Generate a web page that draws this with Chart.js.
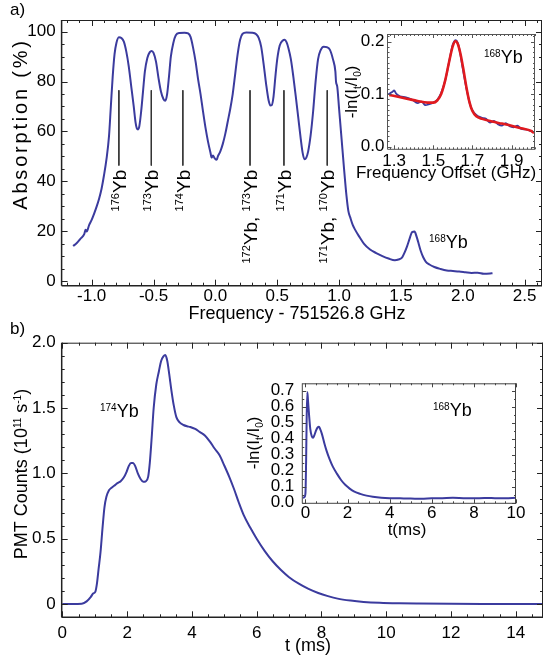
<!DOCTYPE html>
<html>
<head>
<meta charset="utf-8">
<script src="https://cdn.jsdelivr.net/npm/chart.js@4"></script>
<style>
  body { margin: 0; background: #fff; }
  #page { position: relative; width: 543px; height: 664px; overflow: hidden; background: #fff; }
  canvas { position: absolute; }
</style>
</head>
<body>
<div id="page">
  <canvas id="absChart"></canvas>
  <canvas id="pmtChart"></canvas>
  <canvas id="absInset"></canvas>
  <canvas id="pmtInset"></canvas>
</div>
<script>
const FONT = "'Liberation Sans', Arial, sans-serif";
const BLUE = '#3b3b9e';
const RED = '#e01a1f';

// Panel a: absorption vs frequency (GHz offset)
const absFreq = [-1.15, -1.12, -1.09, -1.06, -1.05, -1.04, -1.02, -1.00, -0.98, -0.96, -0.94, -0.92, -0.90, -0.88, -0.86, -0.845, -0.83, -0.815, -0.80, -0.78,
  -0.76, -0.74, -0.72, -0.70, -0.68, -0.66, -0.645, -0.635, -0.625, -0.615, -0.60, -0.585, -0.57, -0.55, -0.53, -0.515, -0.50, -0.48, -0.46, -0.44,
  -0.42, -0.405, -0.39, -0.375, -0.36, -0.34, -0.32, -0.29, -0.25, -0.22, -0.20, -0.18, -0.16, -0.14, -0.12, -0.10, -0.08, -0.06, -0.04, -0.03,
  -0.02, -0.005, 0.01, 0.02, 0.04, 0.06, 0.08, 0.10, 0.12, 0.14, 0.16, 0.18, 0.20, 0.22, 0.25, 0.30, 0.33, 0.35, 0.37, 0.39,
  0.41, 0.43, 0.445, 0.455, 0.47, 0.485, 0.50, 0.52, 0.545, 0.56, 0.575, 0.59, 0.61, 0.63, 0.65, 0.67, 0.69, 0.705, 0.72, 0.735,
  0.75, 0.77, 0.79, 0.81, 0.83, 0.85, 0.875, 0.90, 0.925, 0.95, 0.97, 0.975, 0.985, 1.00, 1.02, 1.04, 1.06, 1.075, 1.09, 1.11,
  1.13, 1.16, 1.20, 1.25, 1.30, 1.35, 1.40, 1.45, 1.48, 1.51, 1.53, 1.55, 1.57, 1.59, 1.61, 1.625, 1.64, 1.66, 1.68, 1.70,
  1.73, 1.77, 1.82, 1.87, 1.92, 1.97, 2.02, 2.07, 2.12, 2.17, 2.22, 2.24];
const absValue = [14.0, 15.2, 17.0, 18.8, 20.5, 19.8, 22.5, 24.5, 27.0, 29.8, 33.0, 37.0, 42.5, 49.0, 58.0, 70.0, 82.0, 91.0, 95.5, 97.8,
  97.5, 96.0, 92.0, 86.0, 78.0, 70.0, 63.5, 61.2, 60.8, 62.0, 68.0, 76.0, 84.0, 89.5, 91.8, 92.3, 91.5, 88.0, 81.5, 76.0,
  73.0, 72.3, 75.0, 82.0, 90.0, 95.5, 98.6, 99.5, 99.6, 99.3, 97.8, 93.5, 88.0, 81.0, 75.0, 68.0, 61.5, 56.0, 51.5, 49.5,
  50.3, 49.2, 48.6, 50.0, 52.0, 55.0, 59.0, 64.0, 69.0, 75.0, 83.0, 91.0, 96.8, 99.2, 99.7, 99.6, 99.0, 97.5, 94.0, 87.0,
  79.0, 72.5, 70.4, 70.5, 74.0, 82.0, 89.0, 94.5, 96.5, 96.8, 95.8, 93.5, 89.0, 82.0, 74.0, 65.5, 57.0, 51.5, 48.8, 49.5,
  52.0, 58.5, 68.0, 80.0, 89.0, 92.5, 94.0, 93.8, 92.8, 89.0, 84.0, 80.0, 78.0, 69.0, 57.0, 45.0, 34.0, 28.0, 25.5, 22.5,
  20.5, 18.0, 15.0, 12.6, 11.2, 10.0, 9.0, 8.3, 8.6, 9.5, 11.5, 14.0, 17.0, 19.6, 19.8, 18.0, 15.5, 12.0, 9.5, 7.8,
  6.6, 5.6, 4.8, 4.2, 4.0, 3.8, 3.5, 3.2, 3.3, 2.9, 3.0, 3.1];

// isotope markers
const isoFreq = [-0.78, -0.518, -0.263, 0.28, 0.554, 0.904];
const isoNames = ['^176Yb', '^173Yb', '^174Yb', '^172Yb, ^173Yb', '^171Yb', '^171Yb, ^170Yb'];
const isoTop = 76.5;
const isoBottom = 46.3;

const absXTicks = [-1.0, -0.5, 0.0, 0.5, 1.0, 1.5, 2.0, 2.5];
const absYTicks = [0, 20, 40, 60, 80, 100];

// inset a: 168Yb line, data + fit
const insFreq = [1.27, 1.29, 1.30, 1.31, 1.33, 1.36, 1.39, 1.42, 1.44, 1.46, 1.48, 1.50, 1.52, 1.54, 1.56, 1.58, 1.60, 1.615, 1.63, 1.65,
  1.67, 1.69, 1.71, 1.73, 1.75, 1.77, 1.79, 1.81, 1.83, 1.85, 1.87, 1.89, 1.91, 1.93, 1.95, 1.97, 1.99, 2.01];
const insValue = [0.100, 0.104, 0.107, 0.101, 0.096, 0.094, 0.090, 0.083, 0.086, 0.079, 0.081, 0.084, 0.089, 0.102, 0.125, 0.160, 0.195, 0.203, 0.192, 0.150,
  0.110, 0.078, 0.064, 0.058, 0.055, 0.053, 0.046, 0.049, 0.043, 0.040, 0.045, 0.039, 0.037, 0.040, 0.034, 0.033, 0.031, 0.028];
const fitFreq = [1.275, 1.32, 1.37, 1.42, 1.47, 1.50, 1.52, 1.54, 1.56, 1.58, 1.60, 1.613, 1.625, 1.64, 1.655, 1.67, 1.685, 1.70, 1.72, 1.75,
  1.80, 1.85, 1.90, 1.95, 2.00, 2.015];
const fitValue = [0.0985, 0.095, 0.091, 0.087, 0.084, 0.084, 0.088, 0.100, 0.125, 0.160, 0.192, 0.201, 0.196, 0.175, 0.145, 0.112, 0.085, 0.068, 0.058, 0.053,
  0.048, 0.044, 0.040, 0.035, 0.030, 0.026];
const insXTicks = [1.3, 1.5, 1.7, 1.9];
const insYTicks = [0.0, 0.1, 0.2];

// Panel b: PMT counts vs time (ms)
const pmtTime = [0, 0.3, 0.6, 0.75, 0.88, 0.95, 1.02, 1.07, 1.12, 1.18, 1.24, 1.30, 1.36, 1.44, 1.52, 1.60, 1.70, 1.80, 1.90, 1.98,
  2.05, 2.12, 2.18, 2.25, 2.33, 2.42, 2.50, 2.58, 2.65, 2.70, 2.76, 2.82, 2.90, 2.98, 3.05, 3.12, 3.18, 3.24, 3.30, 3.37,
  3.44, 3.52, 3.62, 3.74, 3.85, 3.95, 4.10, 4.25, 4.40, 4.55, 4.70, 4.85, 5.00, 5.15, 5.30, 5.45, 5.60, 5.80, 6.00, 6.25,
  6.50, 6.75, 7.00, 7.30, 7.60, 7.90, 8.20, 8.50, 8.90, 9.30, 9.80, 10.4, 11.0, 12.0, 13.0, 14.85];
const pmtValue = [0, 0, 0.002, 0.02, 0.055, 0.08, 0.095, 0.16, 0.27, 0.40, 0.58, 0.74, 0.82, 0.87, 0.89, 0.905, 0.925, 0.94, 0.97, 1.01,
  1.055, 1.08, 1.08, 1.055, 1.00, 0.955, 0.935, 0.94, 0.975, 1.08, 1.28, 1.50, 1.68, 1.78, 1.86, 1.895, 1.905, 1.86, 1.76, 1.63,
  1.52, 1.43, 1.39, 1.37, 1.36, 1.355, 1.34, 1.315, 1.29, 1.245, 1.19, 1.14, 1.06, 0.975, 0.88, 0.775, 0.68, 0.585, 0.50, 0.405,
  0.325, 0.26, 0.205, 0.155, 0.115, 0.084, 0.06, 0.041, 0.026, 0.016, 0.009, 0.005, 0.003, 0.001, 0, 0];
const pmtXTicks = [0, 2, 4, 6, 8, 10, 12, 14];
const pmtYTicks = [0, 0.5, 1.0, 1.5, 2.0];

// inset b: 168Yb absorption vs time
const odTime = [-0.12, -0.05, 0.0, 0.03, 0.06, 0.09, 0.12, 0.17, 0.23, 0.30, 0.36, 0.42, 0.50, 0.58, 0.64, 0.70, 0.78, 0.90, 1.00, 1.15,
  1.30, 1.50, 1.70, 1.90, 2.10, 2.30, 2.60, 2.90, 3.20, 3.60, 4.0, 4.5, 5.0, 5.5, 6.0, 6.5, 7.0, 7.5, 8.0, 8.5,
  9.0, 9.5, 10.0];
const odValue = [0.03, 0.035, 0.06, 0.25, 0.55, 0.69, 0.64, 0.55, 0.46, 0.415, 0.405, 0.42, 0.45, 0.47, 0.475, 0.46, 0.43, 0.37, 0.325, 0.27,
  0.225, 0.18, 0.14, 0.11, 0.088, 0.07, 0.055, 0.044, 0.037, 0.031, 0.028, 0.027, 0.026, 0.024, 0.027, 0.028, 0.030, 0.028, 0.027, 0.029,
  0.028, 0.027, 0.030];
const odXTicks = [0, 2, 4, 6, 8, 10];
const odYTicks = [0.0, 0.1, 0.2, 0.3, 0.4, 0.5, 0.6, 0.7];


// split "^176Yb" / "I_t" into normal, super and sub pieces
function parseRich(str) {
  const segs = [];
  const re = /\^([-\d]+)|_(\w)/g;
  let last = 0, m;
  while ((m = re.exec(str)) !== null) {
    if (m.index > last) segs.push({ t: str.slice(last, m.index), k: 0 });
    if (m[1] !== undefined) segs.push({ t: m[1], k: 1 });
    else segs.push({ t: m[2], k: -1 });
    last = re.lastIndex;
  }
  if (last < str.length) segs.push({ t: str.slice(last), k: 0 });
  return segs;
}

function drawRich(ctx, str, x, y, size, align, spacing) {
  const segs = parseRich(str);
  const small = Math.round(size * 0.58);
  const ls = spacing || 0;
  let w = 0;
  segs.forEach(s => {
    ctx.font = (s.k ? small : size) + 'px ' + FONT;
    s.w = ctx.measureText(s.t).width + ls * s.t.length;
    w += s.w;
  });
  let cx = align === 'center' ? x - w / 2 : (align === 'right' ? x - w : x);
  ctx.textAlign = 'left';
  ctx.textBaseline = 'alphabetic';
  segs.forEach(s => {
    ctx.font = (s.k ? small : size) + 'px ' + FONT;
    const dy = s.k === 1 ? -size * 0.36 : (s.k === -1 ? size * 0.22 : 0);
    if (ls) {
      // spread letters by hand
      let lx = cx;
      for (const ch of s.t) {
        ctx.fillText(ch, lx, y + dy);
        lx += ctx.measureText(ch).width + ls;
      }
    } else {
      ctx.fillText(s.t, cx, y + dy);
    }
    cx += s.w;
  });
}

// box with inward ticks on all four sides + text labels
const decorPlugin = {
  id: 'decor',
  afterDatasetsDraw(chart, args, opts) {
    const ctx = chart.ctx;
    const a = chart.chartArea;
    const xs = chart.scales.x, ys = chart.scales.y;
    ctx.save();

    function seg(x1, y1, x2, y2) {
      ctx.beginPath();
      ctx.moveTo(x1, y1);
      ctx.lineTo(x2, y2);
      ctx.stroke();
    }

    ctx.strokeStyle = opts.frameColor || '#222';
    ctx.lineWidth = 1;
    seg(a.left, a.top + 0.5, a.right, a.top + 0.5);
    seg(a.right - 0.5, a.top, a.right - 0.5, a.bottom);
    ctx.lineWidth = opts.axisWidth || 1.5;
    seg(a.left, a.bottom, a.right, a.bottom);
    seg(a.left, a.top, a.left, a.bottom);

    ctx.lineWidth = 1;
    function ticks(scale, step, majors, horiz) {
      const start = Math.ceil(scale.min / step - 1e-6);
      for (let i = start; i * step <= scale.max + 1e-9; i++) {
        const v = i * step;
        const isMajor = majors.some(m => Math.abs(m - v) < step / 10);
        const len = isMajor ? opts.major : opts.minor;
        const p = Math.round(scale.getPixelForValue(v)) + 0.5;
        if (horiz) {
          seg(p, a.bottom, p, a.bottom - len);
          seg(p, a.top, p, a.top + len);
        } else {
          seg(a.left, p, a.left + len, p);
          seg(a.right, p, a.right - len, p);
        }
      }
    }
    ticks(xs, opts.xMinor, opts.xMajor, true);
    ticks(ys, opts.yMinor, opts.yMajor, false);

    ctx.fillStyle = '#000';
    (opts.texts || []).forEach(t => {
      let x, y;
      if (t.data) {
        x = xs.getPixelForValue(t.x);
        y = ys.getPixelForValue(t.y);
      } else {
        x = t.x - opts.ox;
        y = t.y - opts.oy;
      }
      ctx.save();
      ctx.translate(x, y);
      if (t.rot) ctx.rotate(-Math.PI / 2);
      drawRich(ctx, t.text, 0, t.off || 0, t.size, t.align || 'left', t.ls);
      ctx.restore();
    });
    ctx.restore();
  }
};
Chart.register(decorPlugin);

function points(xs, ys) {
  return xs.map((v, i) => ({ x: v, y: ys[i] }));
}

function curve(xs, ys, color, width) {
  return {
    data: points(xs, ys),
    showLine: true,
    borderColor: color,
    borderWidth: width,
    pointRadius: 0,
    cubicInterpolationMode: 'monotone'
  };
}

function axisCfg(c, dir, size) {
  return {
    type: 'linear',
    min: c.min,
    max: c.max,
    grid: { display: false, drawTicks: false },
    border: { display: false },
    afterBuildTicks: axis => { axis.ticks = c.ticks.map(v => ({ value: v })); },
    afterFit: axis => {
      if (dir === 'x') axis.height = size;
      else axis.width = size;
    },
    ticks: {
      autoSkip: false,
      maxRotation: 0,
      padding: c.pad,
      color: '#000',
      font: { family: FONT, size: 17 },
      callback: c.fmt
    }
  };
}

// box = canvas on the page, area = wanted plot area in page pixels
function makeChart(id, box, area, datasets, xCfg, yCfg, decor) {
  const cv = document.getElementById(id);
  cv.width = box.w;
  cv.height = box.h;
  cv.style.left = box.x + 'px';
  cv.style.top = box.y + 'px';
  return new Chart(cv, {
    type: 'scatter',
    data: { datasets: datasets },
    options: {
      responsive: false,
      animation: false,
      events: [],
      layout: { padding: { left: 0, top: area.t - box.y, right: box.x + box.w - area.r, bottom: 0 } },
      plugins: {
        legend: { display: false },
        tooltip: { enabled: false },
        decor: Object.assign({ ox: box.x, oy: box.y }, decor)
      },
      scales: {
        x: axisCfg(xCfg, 'x', box.y + box.h - area.b),
        y: axisCfg(yCfg, 'y', area.l - box.x)
      }
    }
  });
}

const fix1 = v => v.toFixed(1);

// ---- panel a ----
const absSets = [curve(absFreq, absValue, BLUE, 2)];
isoFreq.forEach(f => {
  absSets.push({
    data: [{ x: f, y: isoTop }, { x: f, y: isoBottom }],
    showLine: true, borderColor: '#333', borderWidth: 1, pointRadius: 0
  });
});
const absTexts = [
  { text: 'a)', x: 10, y: 15, size: 17 },
  { text: 'Absorption (%)', x: 27, y: 124, size: 20, rot: true, align: 'center', ls: 2.8 },
  { text: 'Frequency - 751526.8 GHz', x: 297, y: 319, size: 18, align: 'center' },
  { text: '^168Yb', x: 1.727, y: 13.2, size: 18, data: true }
];
isoFreq.forEach((f, i) => {
  absTexts.push({ text: isoNames[i], x: f, y: isoBottom - 1.7, size: 19, rot: true, align: 'right', off: 7, data: true });
});

makeChart('absChart', { x: 0, y: 0, w: 543, h: 330 }, { l: 61.6, t: 20, r: 542, b: 285.7 },
  absSets,
  { min: -1.243, max: 2.64, ticks: absXTicks, pad: 0, fmt: fix1 },
  { min: -1.9, max: 104.7, ticks: absYTicks, pad: 6, fmt: v => String(v) },
  { xMinor: 0.1, yMinor: 5, xMajor: absXTicks, yMajor: absYTicks, major: 6, minor: 3, texts: absTexts });

// ---- inset a ---- (first dataset is drawn on top, so the fit goes first)
makeChart('absInset', { x: 336, y: 10, w: 207, h: 180 }, { l: 387.5, t: 34, r: 535, b: 149.3 },
  [curve(fitFreq, fitValue, RED, 2.6), curve(insFreq, insValue, BLUE, 1.8)],
  { min: 1.266, max: 2.02, ticks: insXTicks, pad: 2, fmt: fix1 },
  { min: -0.005, max: 0.2147, ticks: insYTicks, pad: 3, fmt: fix1 },
  { xMinor: 0.02, yMinor: 0.01, xMajor: insXTicks, yMajor: insYTicks, major: 4, minor: 2, frameColor: '#555', axisWidth: 1,
    texts: [
      { text: '-ln(I_t/I_0)', x: 357, y: 92, size: 17, rot: true, align: 'center' },
      { text: 'Frequency Offset (GHz)', x: 446, y: 178, size: 17, align: 'center' },
      { text: '^168Yb', x: 484, y: 63, size: 18 }
    ] });

// ---- panel b ----
makeChart('pmtChart', { x: 0, y: 320, w: 543, h: 344 }, { l: 61.7, t: 342.7, r: 543, b: 617.3 },
  [curve(pmtTime, pmtValue, BLUE, 2)],
  { min: -0.02, max: 14.84, ticks: pmtXTicks, pad: 6, fmt: v => String(v) },
  { min: -0.102, max: 2.0, ticks: pmtYTicks, pad: 6, fmt: v => (v === 0 ? '0' : v.toFixed(1)) },
  { xMinor: 0.5, yMinor: 0.1, xMajor: pmtXTicks, yMajor: pmtYTicks, major: 6, minor: 3,
    texts: [
      { text: 'b)', x: 10, y: 334, size: 17 },
      { text: 'PMT Counts (10^11 s^-1)', x: 27, y: 474, size: 18, rot: true, align: 'center' },
      { text: 't (ms)', x: 308, y: 651, size: 18, align: 'center' },
      { text: '^174Yb', x: 100, y: 417, size: 18 }
    ] });

// ---- inset b ----
makeChart('pmtInset', { x: 230, y: 360, w: 313, h: 185 }, { l: 302.3, t: 383.3, r: 516, b: 503.3 },
  [curve(odTime, odValue, BLUE, 2)],
  { min: -0.15, max: 10.0, ticks: odXTicks, pad: 0, fmt: v => String(v) },
  { min: -0.004, max: 0.746, ticks: odYTicks, pad: 8, fmt: fix1 },
  { xMinor: 0.5, yMinor: 0.05, xMajor: odXTicks, yMajor: odYTicks, major: 4, minor: 2, frameColor: '#444', axisWidth: 1,
    texts: [
      { text: '-ln(I_t/I_0)', x: 259, y: 443, size: 17, rot: true, align: 'center' },
      { text: 't(ms)', x: 407, y: 535, size: 17, align: 'center' },
      { text: '^168Yb', x: 433, y: 416, size: 18 }
    ] });
</script>
</body>
</html>
